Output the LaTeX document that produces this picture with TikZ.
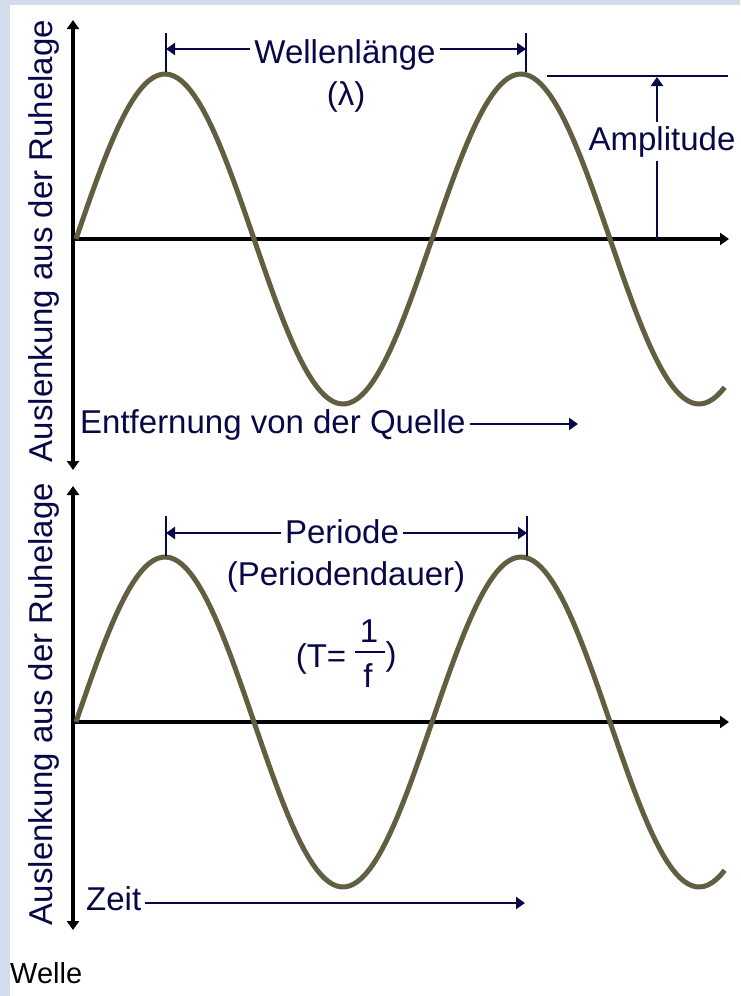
\documentclass[tikz,border=0pt]{standalone}
\usepackage{fontspec}
\setmainfont{Liberation Sans}
\usetikzlibrary{arrows.meta}
\definecolor{navy}{RGB}{8,8,72}
\definecolor{wave}{RGB}{98,94,66}
\definecolor{paper}{RGB}{211,220,234}

\begin{document}
\begin{tikzpicture}[x=1pt, y=-1pt,
    >={Triangle[length=9pt,width=12pt]},
    axis/.style={black, line width=3.5pt},
    dim/.style={navy, line width=2.5pt},
    curve/.style={wave, line width=5pt, line join=round},
    lbl/.style={text=navy, font=\fontsize{33}{38}\selectfont, inner sep=4pt}]

    \fill[paper] (0,0) rectangle (740,996);
    \fill[white] (10,5) rectangle (740,996);
    \useasboundingbox (0,0) rectangle (740,996);

    % TOP: Wellenlaenge
        \begin{scope}
            \coordinate (yt) at (73,20);
            \coordinate (yb) at (73,470);
            \coordinate (o) at (73,239);
            \coordinate (xe) at (729,239);
            \draw[axis,<->] (yt) -- (yb);
            \draw[axis,->] (o) -- (xe);
            \draw[curve] plot[domain=0:656, samples=160] ({76+\x*0.98889},{239-165*sin(\x)});
        % Wellenlaenge
            \coordinate (pa) at (166,49);
            \coordinate (pb) at (526,49);
            \draw[dim] ([yshift=16pt]pa) -- ([yshift=-23pt]pa);
            \draw[dim] ([yshift=16pt]pb) -- ([yshift=-23pt]pb);
            \node[lbl, anchor=base] (wl) at (345,63) {Wellenlänge};
            \node[lbl, anchor=base] (lam) at (346,105) {(λ)};
            \draw[dim,->] (wl.west |- pa) -- (pa);
            \draw[dim,->] (wl.east |- pb) -- (pb);
        % Amplitude
            \coordinate (ta) at (547,76);
            \coordinate (tb) at (728,76);
            \draw[dim] (ta) -- (tb);
            \coordinate (at) at (657,77);
            \coordinate (ab) at (657,239);
            \node[lbl, anchor=base] (amp) at (662,150) {Amplitude};
            \draw[dim,->] (amp.north -| at) -- (at);
            \draw[dim] (amp.south -| ab) -- (ab);
        % Entfernung
            \node[lbl, anchor=base west] (ent) at (76,433) {Entfernung von der Quelle};
            \coordinate (ee) at (578,424);
            \draw[dim,->] (ent.east |- ee) -- (ee);
            \node[lbl, rotate=90] (yl) at (44,241) {Auslenkung aus der Ruhelage};
        \end{scope}

    % BOTTOM: Periode
        \begin{scope}[shift={(0,483)}]
            \coordinate (yt2) at (73,3);
            \coordinate (yb2) at (73,447);
            \coordinate (o2) at (73,239);
            \coordinate (xe2) at (729,239);
            \draw[axis,<->] (yt2) -- (yb2);
            \draw[axis,->] (o2) -- (xe2);
            \draw[curve] plot[domain=0:656, samples=160] ({76+\x*0.98889},{239-165*sin(\x)});
        % Periode
            \coordinate (qa) at (166,50);
            \coordinate (qb) at (527,50);
            \draw[dim] ([yshift=17pt]qa) -- ([yshift=-23pt]qa);
            \draw[dim] ([yshift=17pt]qb) -- ([yshift=-23pt]qb);
            \node[lbl, anchor=base] (per) at (342,60) {Periode};
            \node[lbl, anchor=base] (dauer) at (346,102) {(Periodendauer)};
            \draw[dim,->] (per.west |- qa) -- (qa);
            \draw[dim,->] (per.east |- qb) -- (qb);
        % T = 1/f
            \node[lbl, anchor=base] (tgl) at (321,184) {(T=};
            \node[lbl, anchor=base] (eins) at (369,159) {1};
            \node[lbl, anchor=base] (ef) at (368,204) {f};
            \node[lbl, anchor=base] (kl) at (391,182) {)};
            \draw[dim] (355,169) -- (385,169);
        % Zeit
            \node[lbl, anchor=base west] (zeit) at (82,427) {Zeit};
            \coordinate (ze) at (525,420);
            \draw[dim,->] (zeit.east |- ze) -- (ze);
            \node[lbl, rotate=90] (yl2) at (44,221) {Auslenkung aus der Ruhelage};
        \end{scope}

    \node[anchor=base west, font=\fontsize{29}{32}\selectfont, inner sep=0pt] (welle) at (10,983) {Welle};
\end{tikzpicture}
\end{document}
